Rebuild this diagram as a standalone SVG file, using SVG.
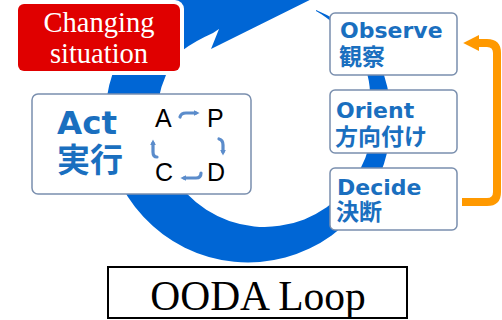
<svg xmlns="http://www.w3.org/2000/svg" width="502" height="320" viewBox="0 0 502 320">
<defs>
<style>
.box{fill:#fff;stroke:#7a8fae;stroke-width:1.5}
.en{font-family:"DejaVu Sans",sans-serif;font-weight:bold;fill:#1a6fbf}
.jp{font-family:"Noto Sans CJK JP",sans-serif;font-weight:bold;fill:#1a6fbf}
.pdca{font-family:"Liberation Sans",Arial,sans-serif;font-size:25px;fill:#000}
.serif{font-family:"Liberation Serif","Times New Roman",serif}
.mini{fill:none;stroke:#5b8ccb;stroke-width:3.2;stroke-linecap:round}
</style>
<marker id="mh" viewBox="0 0 10 10" refX="4" refY="5" markerWidth="6" markerHeight="6" markerUnits="userSpaceOnUse" orient="auto">
<path d="M0,0 L10,5 L0,10 Z" fill="#5b8ccb"/>
</marker>
<marker id="oh" viewBox="0 0 10 10" refX="2" refY="5" markerWidth="16" markerHeight="18" markerUnits="userSpaceOnUse" orient="auto">
<path d="M0,0 L10,5 L0,10 Z" fill="#ff9900"/>
</marker>
</defs>
<rect width="502" height="320" fill="#fff"/>
<g id="connectors">
<path id="ooda-ring" fill="#0066d5" d="M316,10 C345,22 374,45 384,75 A143 143 0 1 1 156,10 L160,-25 L350,-25 L350,-20 L211,49 L219,29 L213,33 Q195,41 183,50 Q170,62 166,75 A108 108 0 1 0 370,95 C371,62 346,28 316,11 Z"/>
<path id="feedback" fill="none" stroke="#ff9900" stroke-width="8" d="M462,202 L487,202 Q497,202 497,192 L497,53 Q497,43 487,43 L476,43" marker-end="url(#oh)"/>
</g>
<g id="changing-situation">
<rect x="14" y="0" width="170" height="75" rx="9" fill="#fff"/>
<rect x="18" y="4" width="162" height="67" rx="6" fill="#e00000"/>
<text class="serif" x="99" y="32" font-size="28.5" fill="#fff" text-anchor="middle">Changing</text>
<text class="serif" x="99" y="63" font-size="28.5" fill="#fff" text-anchor="middle">situation</text>
</g>
<g id="act">
<rect class="box" x="32" y="94" width="219" height="100" rx="6"/>
<text class="en" x="57" y="134" font-size="32" textLength="60" lengthAdjust="spacingAndGlyphs">Act</text>
<text class="jp" x="57" y="172" font-size="33">実行</text>
<text class="pdca" x="155" y="127">A</text>
<text class="pdca" x="207" y="127">P</text>
<text class="pdca" x="155" y="181">C</text>
<text class="pdca" x="207" y="181">D</text>
<path class="mini" d="M180,117 Q181,113 186,113 L196,113" marker-end="url(#mh)"/>
<path class="mini" d="M219,139 Q223,140 223,145 L223,152" marker-end="url(#mh)"/>
<path class="mini" d="M201,173 Q201,178 196,178 L184,178" marker-end="url(#mh)"/>
<path class="mini" d="M157,157 Q153,157 153,152 L153,143" marker-end="url(#mh)"/>
</g>
<g id="observe">
<rect class="box" x="330" y="13" width="127" height="62" rx="5"/>
<text class="en" x="340" y="38" font-size="22">Observe</text>
<text class="jp" x="339" y="65" font-size="23">観察</text>
</g>
<g id="orient">
<rect class="box" x="330" y="90" width="127" height="63" rx="5"/>
<text class="en" x="336" y="118" font-size="22">Orient</text>
<text class="jp" x="335" y="145" font-size="23">方向付け</text>
</g>
<g id="decide">
<rect class="box" x="330" y="168" width="127" height="62" rx="5"/>
<text class="en" x="337" y="195" font-size="22">Decide</text>
<text class="jp" x="336" y="220" font-size="23">決断</text>
</g>
<g id="title">
<rect x="108" y="267" width="299" height="51" fill="#fff" stroke="#000" stroke-width="2"/>
<text class="serif" x="258" y="310" font-size="41.5" fill="#000" text-anchor="middle">OODA Loop</text>
</g>
</svg>
